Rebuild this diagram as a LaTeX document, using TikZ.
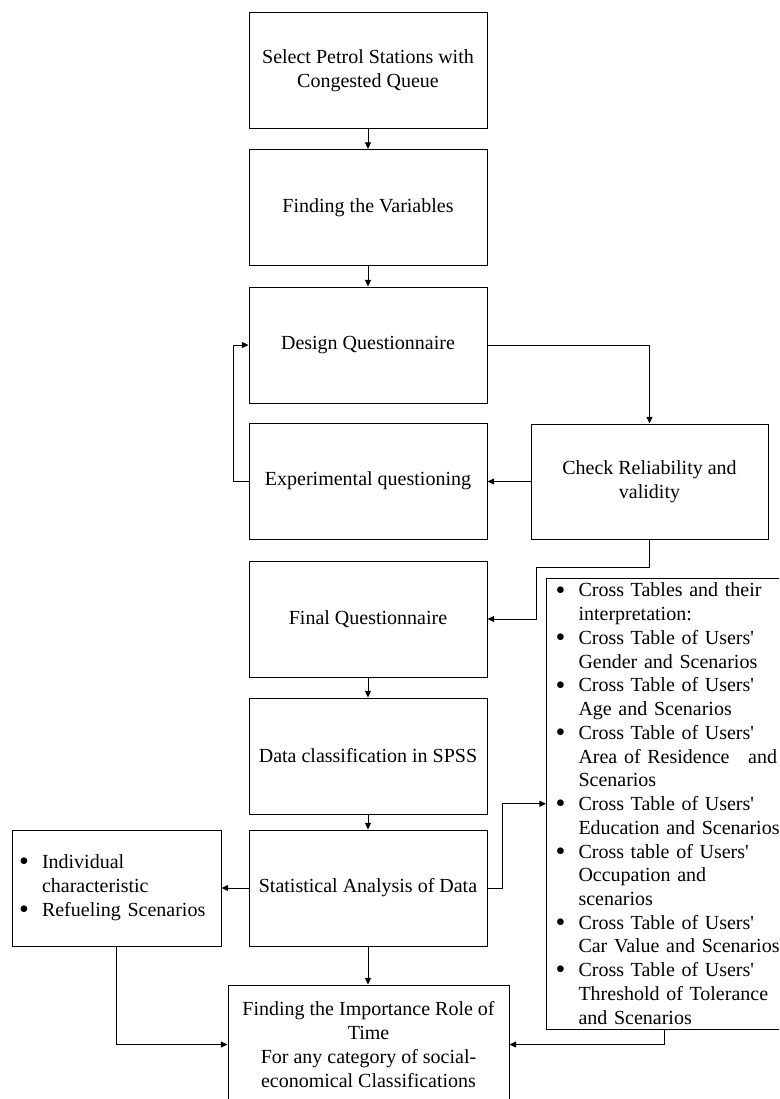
\documentclass[tikz,border=0pt]{standalone}
\usepackage{fontspec}
\setmainfont{Liberation Serif}[Ligatures=TeXOff]
\usetikzlibrary{arrows.meta,calc}
\newcommand{\bitem}{\makebox[17.25pt][l]{\raisebox{-1.6pt}{\fontsize{21}{0}\selectfont\textbullet}}}
\newcommand{\bind}{\hspace*{17.25pt}}
\tikzset{
  box/.style={draw=black, line width=0.75pt, minimum width=178.5pt, minimum height=87pt,
    align=center, inner sep=2pt, font=\fontsize{15}{18}\selectfont},
  conn/.style={line width=0.75pt, -{Triangle[length=5pt,width=4.5pt]}},
  listbox/.style={draw=black, line width=0.75pt, align=left, font=\fontsize{15}{17.8}\selectfont}
}
\begin{document}
\begin{tikzpicture}[x=0.75pt,y=-0.75pt]
\clip (0,0) rectangle (779,1099);
\fill[white] (0,0) rectangle (779,1099);

\node[box] (b1) at (368,70.5) {Select Petrol Stations with\\Congested Queue};
\node[box] (b2) at (368,207.5) {Finding the Variables};
\node[box] (b3) at (368,345) {Design Questionnaire};
\node[box] (b4) at (368,481) {Experimental questioning};
\node[box, minimum width=177.75pt, minimum height=86.25pt] (chk) at (649.5,481.5) {Check Reliability and\\validity};
\node[box] (b5) at (368,619) {Final Questionnaire};
\node[box] (b6) at (368,756) {Data classification in SPSS};
\node[box] (b7) at (368,888) {Statistical Analysis of Data};
\node[box, minimum width=156.75pt, text width=146.25pt, inner xsep=5.25pt, align=left] (lft) at (116.5,888)
  {\bitem Individual\\\bind characteristic\\\bitem Refueling Scenarios};
\node[box, minimum width=210.75pt, minimum height=89.25pt] (fin) at (368.5,1044.5)
  {Finding the Importance Role of\\Time\\For any category of social-\\economical Classifications};
\node[listbox, anchor=north west, text width=185pt, inner xsep=6.75pt, inner ysep=0pt, minimum height=338.6pt] (lst) at (546,577.5)
  {\bitem Cross Tables and their\\
   \bind interpretation:\\
   \bitem Cross Table of Users'\\
   \bind Gender and Scenarios\\
   \bitem Cross Table of Users'\\
   \bind Age and Scenarios\\
   \bitem Cross Table of Users'\\
   \bind Area of Residence\hspace*{14pt}and\\
   \bind Scenarios\\
   \bitem Cross Table of Users'\\
   \bind Education and Scenarios\\
   \bitem Cross table of Users'\\
   \bind Occupation and\\
   \bind scenarios\\
   \bitem Cross Table of Users'\\
   \bind Car Value and Scenarios\\
   \bitem Cross Table of Users'\\
   \bind Threshold of Tolerance\\
   \bind and Scenarios};
\coordinate (lstout) at ($(lst.south west)+(118,0)$);

\draw[conn] (b1) -- (b2);
\draw[conn] (b2) -- (b3);
\draw[conn] (b3.east) -| (chk.north);
\draw[conn] (chk.west) -- (chk.west -| b4.east);
\draw[conn] (b4.west) -- ++(-15,0) |- (b3.west);
\draw[conn] (chk.south) -- ++(0,28) -| ($(b5.east)+(49,0)$) -- (b5.east);
\draw[conn] (b5) -- (b6);
\draw[conn] (b6) -- (b7);
\draw[conn] (b7.west) -- (lft.east);
\draw[conn] (b7.east) -- ++(15,0) |- (lst.west);
\draw[conn] (b7.south) -- (b7.south |- fin.north);
\draw[conn] (lft.south) |- (fin.west);
\draw[conn] (lstout) |- (fin.east);
\end{tikzpicture}
\end{document}
